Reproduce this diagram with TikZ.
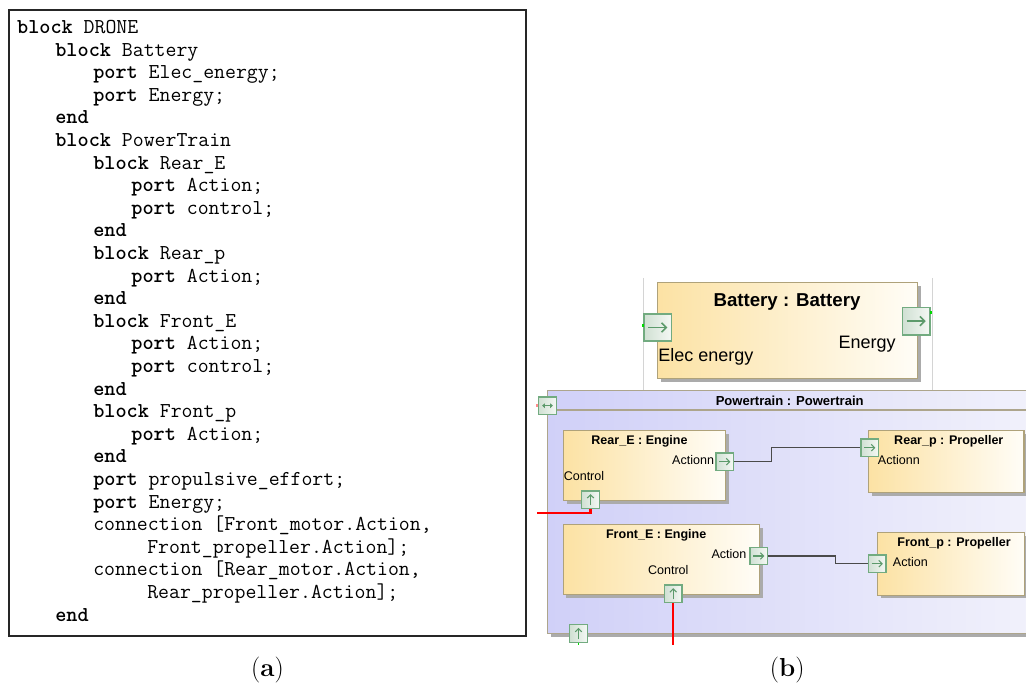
\documentclass[tikz,border=0pt]{standalone}
\usepackage{fontspec}
\newfontfamily\arial{Liberation Sans}
\usetikzlibrary{arrows.meta,shadows,calc}
\definecolor{partL}{HTML}{FCE2A4}
\definecolor{partR}{HTML}{FFFDF7}
\definecolor{partB}{HTML}{AFA27A}
\definecolor{ptL}{HTML}{D0D0F8}
\definecolor{ptR}{HTML}{F3F3FB}
\definecolor{ptBd}{HTML}{ADA58C}
\definecolor{portL}{HTML}{D0E0D3}
\definecolor{portR}{HTML}{F4F8F4}
\definecolor{portB}{HTML}{72AB80}
\definecolor{portA}{HTML}{5C9A6B}
\definecolor{shad}{HTML}{ABABAB}
\definecolor{wire}{HTML}{4A4A4A}
\definecolor{panel}{HTML}{D4D4D4}
\tikzset{
  code/.style={font=\ttfamily\fontsize{15.9}{19}\selectfont, anchor=base west, inner sep=0pt},
  part/.style={draw=partB, line width=0.9pt, left color=partL, right color=partR,
    anchor=north west, inner sep=0pt,
    drop shadow={shadow xshift=2.2pt, shadow yshift=-2.2pt, fill=shad, opacity=1}},
  ptbox/.style={draw=ptBd, line width=0.9pt, left color=ptL, right color=ptR,
    anchor=north west, inner sep=0pt,
    drop shadow={shadow xshift=2.2pt, shadow yshift=-2.2pt, fill=shad, opacity=1}},
  port/.style={draw=portB, line width=1pt, left color=portL, right color=portR,
    minimum size=13.1pt, inner sep=0pt},
  bigport/.style={port, minimum size=20.4pt, line width=1.3pt},
  portE/.style={path picture={\draw[portA, line width=0.8pt, -{Straight Barb[length=2.4pt,width=5pt]}]
      ($(path picture bounding box.west)!0.18!(path picture bounding box.east)$) --
      ($(path picture bounding box.west)!0.82!(path picture bounding box.east)$);}},
  bigportE/.style={path picture={\draw[portA, line width=1.2pt, -{Straight Barb[length=3.5pt,width=7pt]}]
      ($(path picture bounding box.west)!0.15!(path picture bounding box.east)$) --
      ($(path picture bounding box.west)!0.85!(path picture bounding box.east)$);}},
  portN/.style={path picture={\draw[portA, line width=0.8pt, -{Straight Barb[length=2.4pt,width=5pt]}]
      ($(path picture bounding box.south)!0.18!(path picture bounding box.north)$) --
      ($(path picture bounding box.south)!0.82!(path picture bounding box.north)$);}},
  portLR/.style={path picture={\draw[portA, line width=0.6pt, {Triangle[length=2pt,width=3.5pt]}-{Triangle[length=2pt,width=3.5pt]}]
      ([xshift=-4pt]path picture bounding box.center) -- ([xshift=4pt]path picture bounding box.center);}},
  ttl/.style={font=\arial\bfseries\fontsize{9.4}{11}\selectfont, inner sep=0pt, anchor=base},
  lbl/.style={font=\arial\fontsize{9.4}{11}\selectfont, inner sep=0pt},
  wireline/.style={draw=wire, line width=0.9pt},
  redline/.style={draw=red, line width=1.6pt},
  capt/.style={font=\fontsize{19.5}{22}\selectfont, inner sep=0pt, anchor=base}
}
\begin{document}
\begin{tikzpicture}[x=0.75pt, y=-0.75pt]
\useasboundingbox (0,0) rectangle (1026,691);
\clip (0,0) rectangle (1026,691);
\fill[white] (0,0) rectangle (1026,691);

% ---------- (a) code listing ----------
\draw[line width=0.8pt, black!85] (9,10) rectangle (526,636);
\foreach \x/\t [count=\i] in {
  16.9/{\textbf{block} DRONE},
  55.1/{\textbf{block} Battery},
  93/{\textbf{port} Elec\_energy;},
  93/{\textbf{port} Energy;},
  55.1/{\textbf{end}},
  55.1/{\textbf{block} PowerTrain},
  93/{\textbf{block} Rear\_E},
  131.2/{\textbf{port} Action;},
  131.2/{\textbf{port} control;},
  93/{\textbf{end}},
  93/{\textbf{block} Rear\_p},
  131.2/{\textbf{port} Action;},
  93/{\textbf{end}},
  93/{\textbf{block} Front\_E},
  131.2/{\textbf{port} Action;},
  131.2/{\textbf{port} control;},
  93/{\textbf{end}},
  93/{\textbf{block} Front\_p},
  131.2/{\textbf{port} Action;},
  93/{\textbf{end}},
  93/{\textbf{port} propulsive\_effort;},
  93/{\textbf{port} Energy;},
  93/{connection [Front\_motor.Action,},
  147/{Front\_propeller.Action];},
  93/{connection [Rear\_motor.Action,},
  147/{Rear\_propeller.Action];},
  55.1/{\textbf{end}}}
  {\node[code] (c\i) at (\x, {33.5+22.6*(\i-1)}) {\t};}

\node[capt] (capa) at (267.5,677) {(\textbf{a})};
\node[capt] (capb) at (787.3,677) {(\textbf{b})};

% ---------- (b) model ----------
% battery panel
\draw[panel, line width=0.6pt] (643,278) -- (643,390);
\draw[panel, line width=0.6pt] (932,278) -- (932,390);
\node[part, minimum width=195pt, minimum height=72pt] (bat) at (657,282) {};
\node[font=\arial\bfseries\fontsize{14}{16}\selectfont, inner sep=0pt, anchor=base] (batT) at (787,306.7) {Battery : Battery};
\node[font=\arial\fontsize{13.5}{16}\selectfont, inner sep=0pt, anchor=base west] (batL1) at (658,361.7) {Elec energy};
\node[font=\arial\fontsize{13.5}{16}\selectfont, inner sep=0pt, anchor=base east] (batL2) at (896,348.3) {Energy};
\node[port, bigport, bigportE] (batIn) at (657.8,327.5) {};
\node[port, bigport, bigportE] (batOut) at (916.2,321.2) {};
\fill[green!85!black] (929.8,311) rectangle (932,314.5);
\fill[green!85!black] (642.3,324.5) rectangle (644.3,327);

% powertrain
\node[ptbox, minimum width=384.75pt, minimum height=182.25pt] (pt) at (547,390) {};
\draw[draw=ptBd, line width=0.9pt] (547,410) coordinate (sepL) -- (1060,410) coordinate (sepR);
\node[font=\arial\bfseries\fontsize{9.8}{11}\selectfont, inner sep=0pt, anchor=base] (ptT) at (789.7,405.7) {Powertrain : Powertrain};

% inner parts
\node[part, minimum width=121.5pt, minimum height=52.5pt] (reE) at (563,430) {};
\node[part, minimum width=116.6pt, minimum height=46.5pt] (reP) at (868,430) {};
\node[part, minimum width=147.4pt, minimum height=52.5pt] (feE) at (562.5,524) {};
\node[part, minimum width=110.25pt, minimum height=46.9pt] (feP) at (877,532) {};

\node[ttl] (reET) at (639.5,445) {Rear\_E : Engine};
\node[ttl] (rePT) at (948.8,445) {Rear\_p : Propeller};
\node[ttl] (feET) at (656.2,539) {Front\_E : Engine};
\node[ttl] (fePT) at (954,546.7) {Front\_p : Propeller};

\node[lbl, anchor=base east] (reAL) at (714.3,465) {Actionn};
\node[lbl, anchor=base west] (reCL) at (563.5,480.7) {Control};
\node[lbl, anchor=base west] (rpAL) at (877.7,465) {Actionn};
\node[lbl, anchor=base east] (feAL) at (746.7,559) {Action};
\node[lbl, anchor=base] (feCL) at (668.3,575) {Control};
\node[lbl, anchor=base west] (fpAL) at (892.7,566.7) {Action};

\coordinate (r1) at (537,512.7);
\coordinate (r2) at (673.2,645);
\coordinate (g1) at (578.5,645);

% ports
\node[port, portE] (reA) at (724.7,461.7) {};
\node[port, portN] (reC) at (590.5,499.7) {};
\node[port, portE] (rpA) at (869.7,447.7) {};
\node[port, portE] (feA) at (758.7,556) {};
\node[port, portN] (feC) at (673.2,593.8) {};
\node[port, portE] (fpA) at (877.2,563.7) {};

% connectors
\draw[wireline] (reA.east) -- ++(37.5,0) |- (rpA.west);
\draw[wireline] (feA.east) -- ++(67,0) |- (fpA.west);
\draw[redline] (reC.south) |- (r1);
\draw[redline] (feC.south) -- (r2);
\draw[green!85!black, line width=1.4pt] (578.5,641) -- (g1);

\node[port, portLR] (ptP) at (547.5,405.7) {};
\node[port, portN] (ptB) at (578.5,633.5) {};
\fill[red!45] (535.5,404) rectangle (538,407);
\end{tikzpicture}
\end{document}
